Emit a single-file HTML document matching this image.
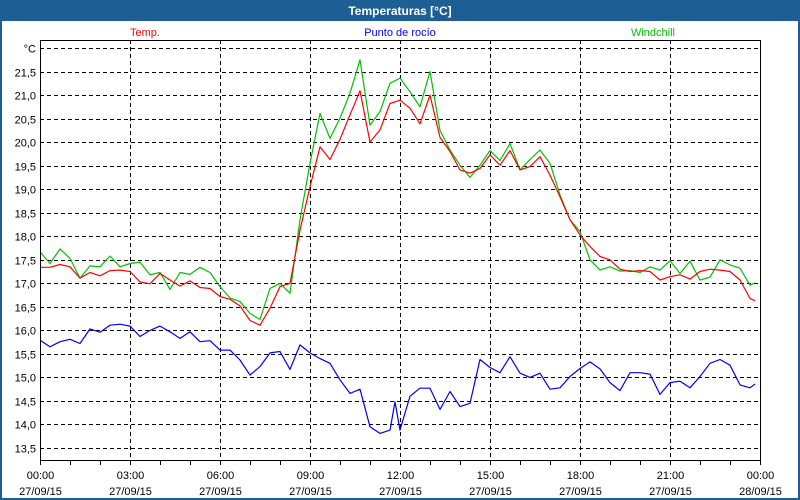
<!DOCTYPE html>
<html><head><meta charset="utf-8"><style>
body{margin:0;width:800px;height:500px;overflow:hidden;background:#fff;font-family:"Liberation Sans",Tahoma,sans-serif}
</style></head><body>
<svg width="800" height="500" xmlns="http://www.w3.org/2000/svg" style="display:block">
<rect x="0" y="0" width="800" height="500" fill="#1d5e95"/>
<rect x="2" y="21" width="796" height="477" fill="#fff"/>
<text x="400" y="15" text-anchor="middle" font-size="12" font-weight="bold" fill="#fff">Temperaturas [°C]</text>
<text x="145" y="36" text-anchor="middle" font-size="11" fill="#ff0000">Temp.</text>
<text x="400" y="36" text-anchor="middle" font-size="11" fill="#0000ff">Punto de rocío</text>
<text x="653" y="36" text-anchor="middle" font-size="11" fill="#00c000">Windchill</text>
<g id="grid"></g>
<g id="series"></g>
<rect x="40.5" y="40.5" width="720" height="420" fill="none" stroke="#000"/>
<g id="axes"></g>
</svg>
<script>
const yTicks=[13.5,14.0,14.5,15.0,15.5,16.0,16.5,17.0,17.5,18.0,18.5,19.0,19.5,20.0,20.5,21.0,21.5];
const xTickHours=[0,3,6,9,12,15,18,21,24];
const xTickTimes=["00:00","03:00","06:00","09:00","12:00","15:00","18:00","21:00","00:00"];
const xTickDates=["27/09/15","27/09/15","27/09/15","27/09/15","27/09/15","27/09/15","27/09/15","27/09/15","28/09/15"];
const tempValues=[17.34,17.34,17.40,17.35,17.11,17.23,17.16,17.27,17.28,17.25,17.03,16.99,17.21,17.07,16.94,17.05,16.91,16.89,16.72,16.66,16.52,16.21,16.11,16.47,16.93,17.0,18.13,
19.05,19.90,19.63,20.06,20.58,21.09,20.0,20.26,20.82,20.89,20.72,20.39,21.0,20.10,
19.80,19.41,19.34,19.44,19.73,19.51,19.82,19.41,19.48,19.69,19.30,18.84,18.35,18.03,17.78,17.57,17.50,17.30,
17.25,17.27,17.25,17.07,17.14,17.18,17.09,17.25,17.30,17.28,17.25,17.07,16.68,16.63];
const windValues=[17.67,17.42,17.73,17.53,17.11,17.37,17.35,17.58,17.35,17.42,17.45,17.18,17.23,16.87,17.23,17.19,17.34,17.23,16.93,16.69,16.61,16.36,16.23,16.89,17.0,16.79,18.35,
19.55,20.61,20.08,20.51,21.04,21.75,20.36,20.65,21.25,21.36,21.07,20.75,21.50,20.25,
19.83,19.51,19.25,19.51,19.82,19.61,19.97,19.41,19.63,19.83,19.55,18.88,18.35,18.10,17.50,17.28,17.35,17.26,
17.27,17.23,17.35,17.28,17.48,17.21,17.47,17.07,17.13,17.50,17.39,17.32,16.96,17.01];
const dewValues=[15.79,15.65,15.76,15.81,15.72,16.03,15.96,16.11,16.13,16.09,15.87,16.0,16.09,15.97,15.83,15.97,15.76,15.78,15.58,15.58,15.37,15.05,15.23,15.52,15.55,15.17,15.69,15.52,15.40,15.30,14.95,14.66,14.75,13.95,13.81,13.88,
14.48,
13.88,14.60,14.77,14.77,14.32,14.70,14.38,14.45,15.38,15.21,15.10,15.44,15.09,15.0,15.09,14.75,14.78,15.02,15.19,15.33,15.18,14.89,14.72,15.10,15.10,15.07,14.64,14.89,14.92,14.78,15.02,15.30,15.38,15.26,14.84,14.78,
14.86];
const tempTimes=[];for(let i=0;i<72;i++)tempTimes.push(i/3);tempTimes.push(23+50/60);
const dewTimes=[];for(let i=0;i<36;i++)dewTimes.push(i/3);dewTimes.push(11+50/60);for(let i=36;i<72;i++)dewTimes.push(i/3);dewTimes.push(23+50/60);

const NS="http://www.w3.org/2000/svg";
function xs(h){return 40+h*30;}
function ys(v){return 48+(22-v)*47.06;}
function mk(tag,attrs,parent){const e=document.createElementNS(NS,tag);for(const k in attrs)e.setAttribute(k,attrs[k]);parent.appendChild(e);return e;}
const grid=document.getElementById('grid'),axes=document.getElementById('axes'),ser=document.getElementById('series');
yTicks.concat([22]).forEach(v=>{const y=Math.round(ys(v))+0.5;
 const l=mk('line',{x1:40,x2:760,y1:y,y2:y,stroke:'#000','stroke-dasharray':'4,3'},grid);
 
 
 const t=mk('text',{x:36,y:y+4,'text-anchor':'end','font-size':11,fill:'#000'},axes);
 t.textContent=v===22?'°C':v.toFixed(1).replace('.',',');
 
 
});
xTickHours.forEach((h,i)=>{const x=Math.round(xs(h))+0.5;
 if(h>0&&h<24){const l=mk('line',{x1:x,x2:x,y1:40,y2:460,stroke:'#000','stroke-dasharray':'4,3'},grid);
 
 }
 const t1=mk('text',{x:x,y:479,'text-anchor':'middle','font-size':11,fill:'#000'},axes);t1.textContent=xTickTimes[i];
 
 
 const t2=mk('text',{x:x,y:495,'text-anchor':'middle','font-size':11,fill:'#000'},axes);t2.textContent=xTickDates[i];
 
 
});
for(let h=0;h<=24;h++){const x=Math.round(xs(h))+0.5;const l=mk('line',{x1:x,x2:x,y1:460,y2:465,stroke:'#000'},axes);
 
 }
function line(times,vals,color,name){const d=vals.map((v,i)=>(i?'L':'M')+xs(times[i]).toFixed(1)+','+ys(v).toFixed(1)).join('');
 const p=mk('path',{d:d,fill:'none',stroke:color,'stroke-width':1.2,'stroke-linejoin':'round'},ser);
 
 }
line(dewTimes,dewValues,'#0000ff','dew-point-line');
line(tempTimes,windValues,'#00c000','windchill-line');
line(tempTimes,tempValues,'#ff0000','temp-line');
</script>
</body></html>
